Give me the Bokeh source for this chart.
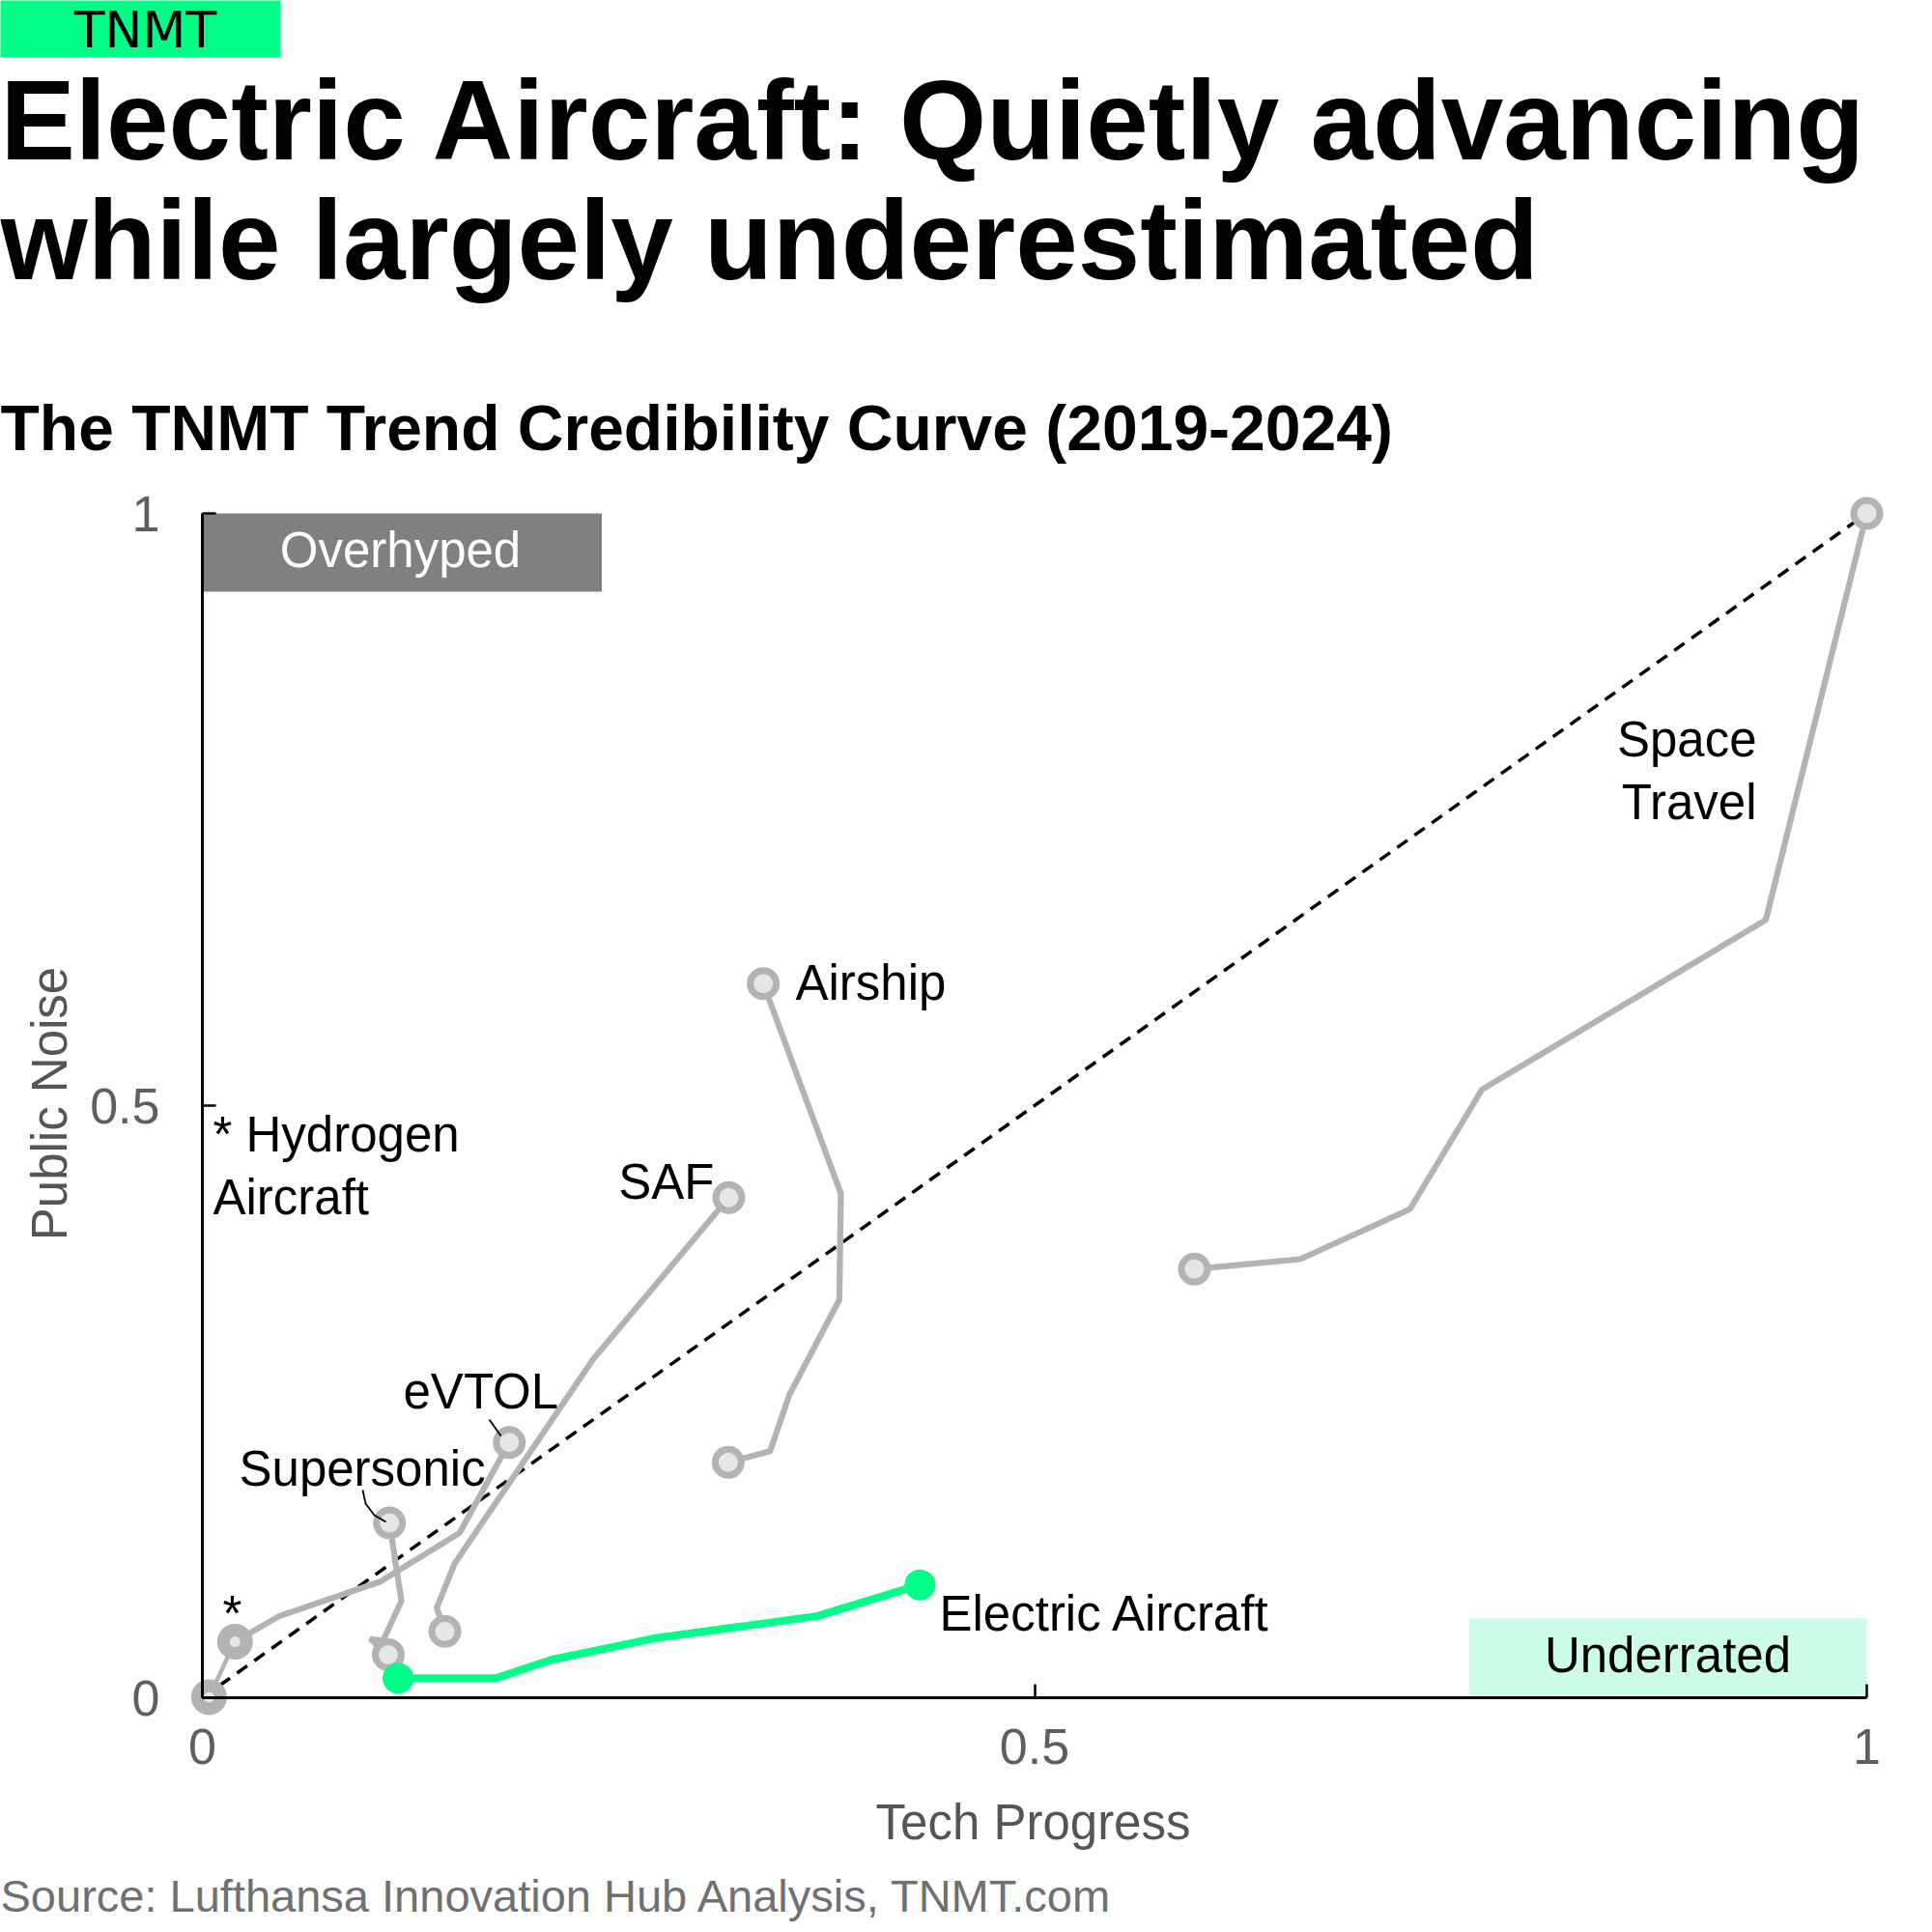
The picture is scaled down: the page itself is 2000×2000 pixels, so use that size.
import math
from bokeh.plotting import figure
from bokeh.models import Range1d, Label, FixedTicker, BoxAnnotation
from bokeh.embed import file_html
from bokeh.resources import INLINE

# ---------------- data ----------------
hydrogen_x = [0.004, 0.0196]
hydrogen_y = [0.0005, 0.0473]
evtol_x = [0.0195, 0.046, 0.107, 0.1544, 0.1844]
evtol_y = [0.0473, 0.0688, 0.0981, 0.1389, 0.2156]
supersonic_x = [0.1117, 0.1008, 0.1085, 0.1196, 0.1124]
supersonic_y = [0.0363, 0.0498, 0.0481, 0.0818, 0.1476]
saf_x = [0.1457, 0.1408, 0.1515, 0.2347, 0.3163]
saf_y = [0.0560, 0.0759, 0.1131, 0.2857, 0.4223]
airship_x = [0.3159, 0.3411, 0.3527, 0.3827, 0.3836, 0.337]
airship_y = [0.1988, 0.2082, 0.2559, 0.3361, 0.4258, 0.603]
space_x = [0.596, 0.6596, 0.7255, 0.7688, 0.9393, 1.0]
space_y = [0.362, 0.3703, 0.4125, 0.5135, 0.6567, 1.0]
electric_x = [0.1176, 0.1766, 0.2095, 0.2712, 0.3696, 0.4311]
electric_y = [0.0166, 0.0166, 0.032, 0.0501, 0.069, 0.0953]

parity_x = [0.0, 1.0]
parity_y = [0.0, 1.0]

tick_values = [0, 0.5, 1]
tick_labels = ["0", "0.5", "1"]

zone_names = ["Overhyped", "Underrated"]
zone_left = [0.0, 0.761]
zone_right = [0.24, 1.0]
zone_bottom = [0.934, 0.0]
zone_top = [1.0, 0.0669]

title_lines = ["Electric Aircraft: Quietly advancing", "while largely underestimated"]
subtitle = "The TNMT Trend Credibility Curve (2019-2024)"
source_text = "Source: Lufthansa Innovation Hub Analysis, TNMT.com"
x_title = "Tech Progress"
y_title = "Public Noise"

# ---------------- layout ----------------
W = H = 1992
PX0, PX1 = 209, 1932          # canvas x of data 0 and 1
PY0, PY1 = 1757, 531          # canvas y of data 0 and 1
SX = PX1 - PX0
SY = PY0 - PY1
BASE_FIX = 0.39               # label anchor correction (fraction of font size)


def fx(X):
    return (X - PX0) / SX


def fy(Y):
    return (PY0 - Y) / SY


GRAY = "#b3b3b3"
LIGHT = "#e6e6e6"
GREEN = "#00ff87"
FONT = "Liberation Sans"

p = figure(width=W, height=H, output_backend="svg", toolbar_location=None,
           x_range=Range1d(fx(0), fx(W)), y_range=Range1d(fy(H), fy(0)),
           min_border=0, min_border_left=0, min_border_right=0,
           min_border_top=0, min_border_bottom=0,
           background_fill_color="white", border_fill_color="white")
p.outline_line_color = None
p.xgrid.visible = False
p.ygrid.visible = False

for ax in (p.xaxis[0], p.yaxis[0]):
    ax.fixed_location = 0
    ax.bounds = (0, 1)
    ax.ticker = FixedTicker(ticks=tick_values)
    ax.major_label_overrides = dict(zip(tick_values, tick_labels))
    ax.major_tick_in = 14
    ax.major_tick_out = 0
    ax.minor_tick_in = 0
    ax.minor_tick_out = 0
    ax.axis_line_color = "black"
    ax.axis_line_width = 3
    ax.major_tick_line_color = "black"
    ax.major_tick_line_width = 2.5
    ax.major_label_text_font = FONT
    ax.major_label_text_font_size = "52px"
    ax.major_label_text_color = "#5f5f5f"
p.yaxis.major_label_standoff = 44
p.xaxis.major_label_standoff = 32

# header box
p.add_layout(BoxAnnotation(left=fx(-20), right=fx(290), top=fy(-20), bottom=fy(59),
                           fill_color=GREEN, fill_alpha=1, line_color=None, level="underlay"))

# zones
p.quad(left=zone_left, right=zone_right, bottom=zone_bottom, top=zone_top,
       fill_color=["#808080", "#ccfde6"], line_color=None)

# parity line
p.line(parity_x, parity_y, line_color="black", line_width=3.5, line_dash="13 9")

gray_series = [(evtol_x, evtol_y), (supersonic_x, supersonic_y), (saf_x, saf_y),
               (airship_x, airship_y), (space_x, space_y)]
for xs, ys in gray_series:
    p.line(xs, ys, line_color=GRAY, line_width=6.2)
p.line(hydrogen_x, hydrogen_y, line_color=GRAY, line_width=4.5)
for xs, ys in gray_series:
    p.scatter([xs[0], xs[-1]], [ys[0], ys[-1]], size=27, fill_color=LIGHT,
              line_color=GRAY, line_width=7)
p.scatter([hydrogen_x[0], hydrogen_x[-1]], [hydrogen_y[0], hydrogen_y[-1]], size=24,
          fill_color=LIGHT, line_color=GRAY, line_width=13)

p.line(electric_x, electric_y, line_color=GREEN, line_width=8)
p.scatter([electric_x[0], electric_x[-1]], [electric_y[0], electric_y[-1]], size=32,
          fill_color=GREEN, line_color=None)

# leader lines (canvas pixel positions)
leader_evtol = [(506, 1469), (518, 1486)]
leader_super = [(375, 1542), (378, 1556), (387, 1568), (399, 1575)]
for pts in (leader_evtol, leader_super):
    p.line([fx(a) for a, b in pts], [fy(b) for a, b in pts], line_color="black", line_width=1.8)


def lab(text, X, Y, size, align="left", color="black", style="normal", angle=0.0, font=FONT):
    shift = BASE_FIX * size
    if angle:
        X = X - shift
    else:
        Y = Y - shift
    p.add_layout(Label(x=fx(X), y=fy(Y), text=text, text_font=font, text_font_size=f"{size}px",
                       text_align=align, text_baseline="alphabetic", text_color=color,
                       text_font_style=style, angle=angle))


lab("TNMT", 150, 51, 52, align="center", font="DejaVu Sans")
lab(title_lines[0], 0, 170, 116, style="bold")
lab(title_lines[1], 0, 294, 116, style="bold")
lab(subtitle, 0, 468, 66, style="bold")

lab(zone_names[0], 414, 589, 51, align="center", color="white")
lab(zone_names[1], 1726, 1733, 51, align="center", color="black")

lab("Airship", 823, 1037, 51)
lab("SAF", 739, 1243, 51, align="right")
lab("eVTOL", 417, 1460, 51)
lab("Supersonic", 247, 1540, 51)
lab("* Hydrogen", 220, 1194, 51)
lab("Aircraft", 220, 1259, 51)
lab("*", 240, 1690, 51, align="center")
lab("Electric Aircraft", 972, 1690, 51)
lab("Space", 1818, 785, 51, align="right")
lab("Travel", 1818, 850, 51, align="right")

lab(x_title, 1069, 1906, 51, align="center", color="#555555")
lab(y_title, 71, 1142, 51, align="center", color="#555555", angle=math.pi / 2)
lab(source_text, 0, 1980, 47, color="#707070")

open("out.html", "w").write(file_html(p, INLINE))
